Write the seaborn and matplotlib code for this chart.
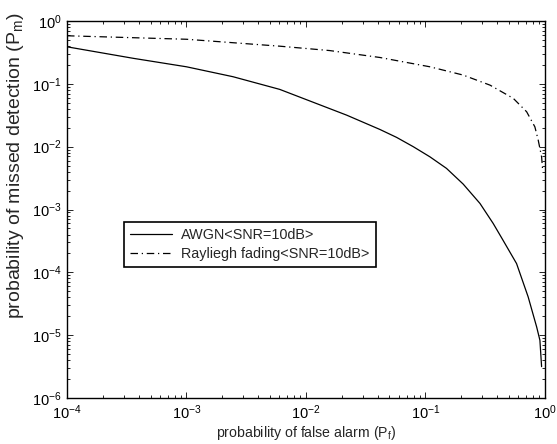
import matplotlib
matplotlib.use("Agg")
import matplotlib.pyplot as plt
import seaborn as sns
import pandas as pd
from matplotlib.ticker import LogLocator, NullFormatter

# --- data ---
awgn_pf = [1e-4, 3.59e-4, 1e-3, 2.45e-3, 6.03e-3, 0.0219, 0.0416, 0.0574, 0.0791,
           0.109, 0.150, 0.207, 0.286, 0.369, 0.437, 0.579, 0.724, 0.853, 0.908, 0.938]
awgn_pm = [0.389, 0.255, 0.187, 0.130, 0.0817, 0.0318, 0.0188, 0.01406, 0.0100,
           6.9e-3, 4.52e-3, 2.54e-3, 1.25e-3, 6.0e-4, 3.47e-4, 1.38e-4, 4.07e-5,
           1.35e-5, 8.3e-6, 3.16e-6]

ray_pf = [1e-4, 1e-3, 6.03e-3, 0.0158, 0.0416, 0.109, 0.207, 0.347, 0.543,
          0.703, 0.824, 0.879, 0.938, 0.955]
ray_pm = [0.583, 0.513, 0.398, 0.339, 0.263, 0.187, 0.138, 0.0955, 0.0589,
          0.036, 0.0207, 0.0127, 6.9e-3, 4.5e-3]

labels = ["AWGN<SNR=10dB>", "Rayliegh fading<SNR=10dB>"]
xlabel = "probability of false alarm (P$_{\\rm f}$)"
ylabel = "probability of missed detection (P$_{\\rm m}$)"

sns.set_style("ticks")
plt.rcParams["font.family"] = ["Liberation Sans", "DejaVu Sans"]
plt.rcParams["mathtext.fontset"] = "custom"
plt.rcParams["mathtext.rm"] = "Liberation Sans"
plt.rcParams["mathtext.it"] = "Liberation Sans:italic"
plt.rcParams["mathtext.bf"] = "Liberation Sans:bold"

fig = plt.figure(figsize=(5.57, 4.44), dpi=100)
ax = fig.add_axes([0.1203, 0.1036, 0.858, 0.849])

df_a = pd.DataFrame({"Pf": awgn_pf, "Pm": awgn_pm})
df_r = pd.DataFrame({"Pf": ray_pf, "Pm": ray_pm})

sns.lineplot(data=df_a, x="Pf", y="Pm", ax=ax, color="black", lw=0.9,
             sort=False, estimator=None, label=labels[0])
sns.lineplot(data=df_r, x="Pf", y="Pm", ax=ax, color="black", lw=0.9,
             sort=False, estimator=None, label=labels[1],
             linestyle=(0, (6, 3, 1, 3)))

ax.set_xscale("log")
ax.set_yscale("log")
ax.set_xlim(1e-4, 1)
ax.set_ylim(1e-6, 1)

ax.xaxis.set_major_locator(LogLocator(base=10, numticks=10))
ax.yaxis.set_major_locator(LogLocator(base=10, numticks=10))
ax.xaxis.set_minor_locator(LogLocator(base=10, subs=range(2, 10), numticks=20))
ax.yaxis.set_minor_locator(LogLocator(base=10, subs=range(2, 10), numticks=20))
ax.xaxis.set_minor_formatter(NullFormatter())
ax.yaxis.set_minor_formatter(NullFormatter())

ax.tick_params(which="both", direction="in", top=True, right=True,
               labelsize=10.5, colors="black", width=0.6)
ax.tick_params(which="major", length=4.5, pad=4)
ax.tick_params(which="minor", length=2.5)
for s in ax.spines.values():
    s.set_linewidth(1.0)
    s.set_color("black")

ax.set_xlabel(xlabel, fontsize=10.2)
ax.xaxis.set_label_coords(0.5, -0.068)
ax.set_ylabel(ylabel, fontsize=14)
ax.yaxis.set_label_coords(-0.085, 0.615)

leg = ax.legend(loc="lower left", bbox_to_anchor=(0.119, 0.347),
                borderaxespad=0, fontsize=10.4, handlelength=2.9,
                handletextpad=0.6, frameon=True, fancybox=False,
                borderpad=0.45, labelspacing=0.3)
leg.get_frame().set_edgecolor("black")
leg.get_frame().set_linewidth(1.2)
leg.get_frame().set_alpha(1)

fig.savefig("out.png", dpi=100)
